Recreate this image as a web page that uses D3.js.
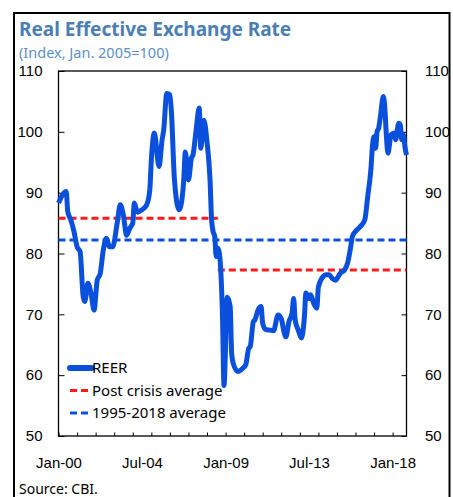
<!DOCTYPE html>
<html>
<head>
<meta charset="utf-8">
<script src="https://cdn.jsdelivr.net/npm/d3@7"></script>
<style>
  body { margin: 0; background: #fff; }
  svg { display: block; font-family: "Noto Sans", "Open Sans", sans-serif; }
  .tick text { font-size: 15px; fill: #000; }
  .tick line { stroke: #000; }
</style>
</head>
<body>
<svg id="chart"></svg>
<script>
(function(){

// REER, monthly points
let months = ["2000-01","2000-06","2000-07","2000-09","2000-11","2001-01","2001-03","2001-05","2001-06","2001-08",
  "2001-10","2001-12","2002-02","2002-04","2002-06","2002-08","2002-10","2002-12","2003-03","2003-05",
  "2003-07","2003-09","2003-11","2004-01","2004-02","2004-04","2004-07","2004-10","2004-12","2005-01",
  "2005-03","2005-06","2005-08","2005-09","2005-11","2006-01","2006-02","2006-04","2006-07","2006-08",
  "2006-10","2006-11","2007-01","2007-03","2007-04","2007-06","2007-08","2007-09","2007-11","2008-01",
  "2008-03","2008-04","2008-05","2008-06","2008-07","2008-08","2008-09","2008-11","2008-12","2009-01",
  "2009-02","2009-04","2009-05","2009-06","2009-09","2009-12","2010-02","2010-04","2010-05","2010-07",
  "2010-08","2010-10","2010-12","2011-01","2011-03","2011-06","2011-08","2011-11","2012-01","2012-03",
  "2012-04","2012-06","2012-08","2012-09","2012-10","2012-12","2013-02","2013-04","2013-05","2013-07",
  "2013-08","2013-10","2013-12","2014-01","2014-04","2014-06","2014-08","2014-10","2014-12","2015-02",
  "2015-03","2015-06","2015-08","2015-10","2015-11","2016-01","2016-04","2016-07","2016-09","2016-11",
  "2016-12","2017-01","2017-02","2017-03","2017-04","2017-05","2017-07","2017-08","2017-09","2017-10",
  "2017-12","2018-02","2018-03","2018-05","2018-06","2018-07","2018-08","2018-09","2018-10"];
let reer = [88.3,90.2,86.9,85.5,83.6,81.1,80.3,72.9,72.1,75.1,
  73.5,70.7,75.6,76.7,80.6,82.5,81.1,81.1,85.0,88.0,
  86.3,83.0,84.1,85.0,88.3,86.8,87.2,88.0,90.4,95.4,
  99.8,94.3,98.7,100.3,106.3,106.1,103.1,92.1,87.2,87.7,
  92.1,96.7,92.1,95.7,96.2,100.3,103.9,97.3,101.9,98.4,
  92.1,85.5,83.6,82.8,79.5,80.9,80.0,69.6,58.3,64.7,
  72.8,71.3,63.5,61.9,60.6,61.1,61.7,64.4,64.7,68.8,
  69.1,70.7,71.3,68.5,67.5,67.4,67.3,69.9,69.3,66.9,
  66.3,68.8,70.2,72.6,69.1,67.4,66.1,69.6,73.5,72.6,
  73.2,71.8,71.0,74.5,76.2,76.5,76.5,75.9,75.6,76.3,
  76.7,77.3,78.5,81.2,82.8,83.6,84.4,85.5,89.6,94.0,
  97.8,99.2,97.3,100.0,100.6,102.2,105.8,103.9,99.2,96.5,
  99.5,99.8,98.7,101.4,101.1,98.7,99.5,97.5,96.2];

// averages
let postCrisis = [
  {from: "2000-01", to: "2008-08", value: 85.8},
  {from: "2008-08", to: "2018-10", value: 77.3}
];
let longRunAvg = {from: "2000-01", to: "2018-10", value: 82.2};

let yTicks = [50, 60, 70, 80, 90, 100, 110];
let xLabels = ["2000-01", "2004-07", "2009-01", "2013-07", "2018-01"];

let title = "Real Effective Exchange Rate",
  subtitle = "(Index, Jan. 2005=100)",
  source = "Source: CBI.";

let W = 453, H = 497;
let margin = {top: 71, right: 46.5, bottom: 61, left: 58.5},
  width = W - margin.left - margin.right,
  height = H - margin.top - margin.bottom;

let parseMonth = d3.timeParse("%Y-%m");
let fmt = d3.timeFormat("%b-%y");

let data = months.map((m, i) => ({date: parseMonth(m), value: reer[i]}));

let x = d3.scaleTime()
  .domain([parseMonth("2000-01"), parseMonth("2018-10")])
  .range([0, width]);
let y = d3.scaleLinear().domain([50, 110]).range([height, 0]);

let svg = d3.select("#chart").attr("width", W).attr("height", H);

// outer frame
svg.append("rect")
  .attr("x", 14).attr("y", 13)
  .attr("width", 435.5).attr("height", 600)
  .attr("fill", "none").attr("stroke", "#000").attr("stroke-width", 2);

svg.append("text")
  .attr("x", 19).attr("y", 36)
  .attr("fill", "#4a7eb4")
  .style("font-size", "19px").style("font-weight", "bold")
  .text(title);

svg.append("text")
  .attr("x", 19).attr("y", 58)
  .attr("fill", "#5b8fc6")
  .style("font-size", "14.5px")
  .text(subtitle);

svg.append("text")
  .attr("x", 19).attr("y", 494)
  .attr("fill", "#000")
  .style("font-size", "14px")
  .text(source);

let g = svg.append("g")
  .attr("transform", "translate(" + margin.left + "," + margin.top + ")");

// plot frame
g.append("rect")
  .attr("width", width).attr("height", height)
  .attr("fill", "none").attr("stroke", "#000").attr("stroke-width", 1.3);

// axes
let yearTicks = d3.timeYear.range(parseMonth("2000-01"), parseMonth("2018-02"));

g.append("g")
  .attr("transform", "translate(0," + height + ")")
  .call(d3.axisBottom(x).tickValues(yearTicks).tickSize(-3.5).tickFormat(""))
  .call(a => a.select(".domain").remove());

g.append("g")
  .attr("transform", "translate(0," + height + ")")
  .call(d3.axisBottom(x).tickValues(xLabels.map(parseMonth)).tickSize(0).tickPadding(21).tickFormat(fmt))
  .call(a => a.select(".domain").remove());

g.append("g")
  .call(d3.axisLeft(y).tickValues(yTicks).tickSize(-6).tickPadding(16))
  .call(a => a.select(".domain").remove());

g.append("g")
  .attr("transform", "translate(" + width + ",0)")
  .call(d3.axisRight(y).tickValues(yTicks).tickSize(-5).tickPadding(18.5))
  .call(a => a.select(".domain").remove());

// average lines
g.selectAll(".post")
  .data(postCrisis)
  .enter().append("line")
  .attr("class", "post")
  .attr("x1", d => x(parseMonth(d.from)))
  .attr("x2", d => x(parseMonth(d.to)))
  .attr("y1", d => y(d.value))
  .attr("y2", d => y(d.value))
  .attr("stroke", "#ff1a1a")
  .attr("stroke-width", 3)
  .attr("stroke-dasharray", "7,4");

g.append("line")
  .attr("x1", x(parseMonth(longRunAvg.from)))
  .attr("x2", x(parseMonth(longRunAvg.to)))
  .attr("y1", y(longRunAvg.value))
  .attr("y2", y(longRunAvg.value))
  .attr("stroke", "#0a50dc")
  .attr("stroke-width", 3)
  .attr("stroke-dasharray", "7,4");

// REER line
let line = d3.line()
  .x(d => x(d.date))
  .y(d => y(d.value))
  .curve(d3.curveMonotoneX);

g.append("path")
  .datum(data)
  .attr("fill", "none")
  .attr("stroke", "#0a50dc")
  .attr("stroke-width", 5)
  .attr("stroke-linejoin", "round")
  .attr("d", line);

// legend
let legendItems = [
  {name: "REER", color: "#0a50dc", width: 6, dash: null},
  {name: "Post crisis average", color: "#ff1a1a", width: 3, dash: "7,4"},
  {name: "1995-2018 average", color: "#0a50dc", width: 3, dash: "7,4"}
];

let legend = svg.selectAll(".legend")
  .data(legendItems)
  .enter().append("g")
  .attr("class", "legend")
  .attr("transform", (d, i) => "translate(70," + (368 + i * 22.5) + ")");

legend.append("line")
  .attr("x1", 0).attr("x2", 22)
  .attr("stroke", d => d.color)
  .attr("stroke-width", d => d.width)
  .attr("stroke-linecap", d => d.dash ? "butt" : "round")
  .attr("stroke-dasharray", d => d.dash);

legend.append("text")
  .attr("x", 22).attr("dy", "0.35em")
  .style("font-size", "15px")
  .text(d => d.name);

})();
</script>
</body>
</html>
